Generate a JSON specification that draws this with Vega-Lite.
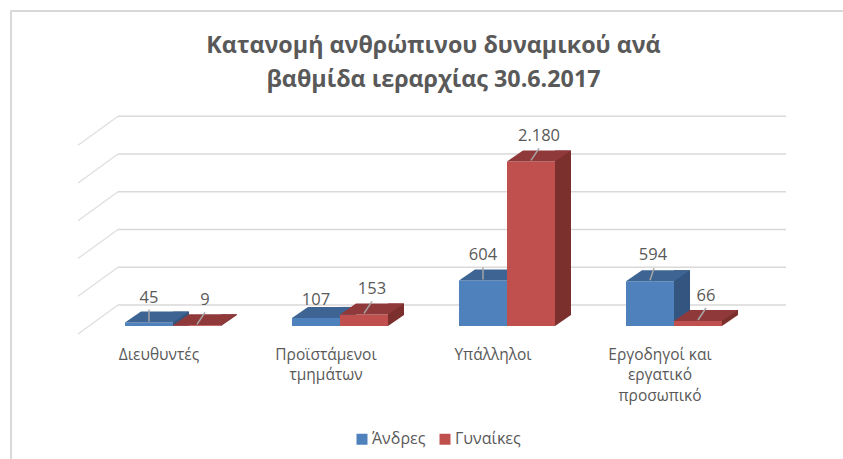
{
"$schema":"https://vega.github.io/schema/vega-lite/v6.json",
"autosize":"none",
"width":732,"height":188.75,
"padding":{"left":78,"top":137.25,"right":33,"bottom":133},
"background":"white",
"config":{"view":{"stroke":null},"font":"Open Sans"},
"title":{"text":["Κατανομή ανθρώπινου δυναμικού ανά","βαθμίδα ιεραρχίας 30.6.2017"],"fontSize":23.3,"fontWeight":"bold","color":"#595959","font":"Open Sans","anchor":"middle","dx":-10.5,"offset":-82,"lineHeight":34},
"datasets":{
"bars":[
{"category":"Διευθυντές","series":"Άνδρες","value":45},
{"category":"Προϊστάμενοι|τμημάτων","series":"Άνδρες","value":107},
{"category":"Υπάλληλοι","series":"Άνδρες","value":604},
{"category":"Εργοδηγοί και|εργατικό|προσωπικό","series":"Άνδρες","value":594},
{"category":"Διευθυντές","series":"Γυναίκες","value":9},
{"category":"Προϊστάμενοι|τμημάτων","series":"Γυναίκες","value":153},
{"category":"Υπάλληλοι","series":"Γυναίκες","value":2180},
{"category":"Εργοδηγοί και|εργατικό|προσωπικό","series":"Γυναίκες","value":66}
],
"grid":[{"tick":0},{"tick":500},{"tick":1000},{"tick":1500},{"tick":2000},{"tick":2500}]
},
"data":{"name":"bars"},
"transform":[{"calculate":"replace(format(datum.value,',d'),',','.')","as":"label"}],
"encoding":{
"x":{"field":"category","type":"nominal","sort":null,
"scale":{"domain":["Διευθυντές","Προϊστάμενοι|τμημάτων","Υπάλληλοι","Εργοδηγοί και|εργατικό|προσωπικό"],"range":[11.5,679.5],"paddingInner":0,"paddingOuter":0},
"axis":{"title":null,"domain":false,"ticks":false,"labelAngle":0,"labelPadding":21,"labelOffset":-14,"labelFontSize":15.5,"labelColor":"#595959","labelFont":"Open Sans","labelLineHeight":20.5,"labelExpr":"split(datum.label,'|')","labelLimit":200}},
"y":{"field":"value","type":"quantitative","stack":null,"scale":{"domain":[0,2500],"nice":false},"axis":null}
},
"layer":[
{"data":{"values":[{"b":1}]},"mark":{"type":"rule","color":"#d9d9d9","strokeWidth":2},"encoding":{"x":{"value":-67.5},"x2":{"value":765},"y":{"value":-126.25},"y2":{"value":-126.25}}},
{"data":{"values":[{"b":1}]},"mark":{"type":"rule","color":"#d9d9d9","strokeWidth":2},"encoding":{"x":{"value":-67},"x2":{"value":-67},"y":{"value":-126.25},"y2":{"value":321.75}}},
{"data":{"name":"grid"},"mark":{"type":"rule","color":"#d9d9d9","strokeWidth":1.4,"yOffset":-21,"y2Offset":-21},
 "encoding":{"x":{"value":40},"x2":{"value":708},"y":{"field":"tick","type":"quantitative"},"y2":{"field":"tick"}}},
{"data":{"name":"grid"},"mark":{"type":"rule","color":"#dedede","strokeWidth":1.2,"yOffset":8,"y2Offset":-21},
 "encoding":{"x":{"value":0},"x2":{"value":40},"y":{"field":"tick","type":"quantitative"},"y2":{"field":"tick"}}},

{"transform":[{"filter":"datum.series==='Άνδρες'"}],"mark":{"type":"bar","width":16,"xOffset":8,"yOffset":-11,"color":"#33557f"},"encoding":{"y2":{"datum":0}}},
{"transform":[{"filter":"datum.series==='Άνδρες'"}],"mark":{"type":"bar","width":48,"xOffset":-24},"encoding":{"y2":{"datum":0},"color":{"field":"series","type":"nominal","scale":{"domain":["Άνδρες","Γυναίκες"],"range":["#4f81bd","#c0504d"]},"legend":{"title":null,"orient":"none","legendX":276,"legendY":294,"direction":"horizontal","symbolType":"square","symbolSize":121,"labelFontSize":16,"labelColor":"#595959","labelFont":"Open Sans","labelOffset":2,"columnPadding":11,"symbolStrokeWidth":0}}}},
{"transform":[{"filter":"datum.series==='Άνδρες'"}],"mark":{"type":"point","filled":true,"opacity":1,"size":4,"color":"#3d6492","shape":"M-48,0L0,0L16,-11L-32,-11Z"}},

{"transform":[{"filter":"datum.series==='Γυναίκες'"}],"mark":{"type":"bar","width":16,"xOffset":56,"yOffset":-11,"color":"#7b302e"},"encoding":{"y2":{"datum":0}}},
{"transform":[{"filter":"datum.series==='Γυναίκες'"}],"mark":{"type":"point","filled":true,"opacity":1,"size":4,"color":"white","shape":"M48,0L48,1L65,1L65,-11.5L64,-11Z"},"encoding":{"y":{"datum":0,"type":"quantitative"}}},
{"transform":[{"filter":"datum.series==='Γυναίκες'"}],"mark":{"type":"bar","width":48,"xOffset":24},"encoding":{"y2":{"datum":0},"color":{"field":"series","type":"nominal"}}},
{"transform":[{"filter":"datum.series==='Γυναίκες'"}],"mark":{"type":"point","filled":true,"opacity":1,"size":4,"color":"#90393a","shape":"M0,0L48,0L64,-11L16,-11Z"}},

{"transform":[{"filter":"datum.series==='Γυναίκες'"}],"mark":{"type":"point","filled":false,"opacity":1,"size":4,"stroke":"#a6a6a6","strokeWidth":1.5,"shape":"M24,-1L32,-13"}},
{"transform":[{"filter":"datum.value===45||datum.value===604"}],"mark":{"type":"point","filled":false,"opacity":1,"size":4,"stroke":"#a6a6a6","strokeWidth":1.5,"shape":"M-24,-1L-24,-13"}},
{"transform":[{"filter":"datum.value===594"}],"mark":{"type":"point","filled":false,"opacity":1,"size":4,"stroke":"#a6a6a6","strokeWidth":1.5,"shape":"M-24,-1L-20,-13"}},

{"transform":[{"filter":"datum.series==='Γυναίκες'"}],"mark":{"type":"text","fontSize":16.5,"color":"#595959","font":"Open Sans","dx":32,"dy":-25},"encoding":{"text":{"field":"label","type":"nominal"}}},
{"transform":[{"filter":"datum.value===45||datum.value===604"}],"mark":{"type":"text","fontSize":16.5,"color":"#595959","font":"Open Sans","dx":-24,"dy":-25},"encoding":{"text":{"field":"label","type":"nominal"}}},
{"transform":[{"filter":"datum.value===107"}],"mark":{"type":"text","fontSize":16.5,"color":"#595959","font":"Open Sans","dx":-24,"dy":-18},"encoding":{"text":{"field":"label","type":"nominal"}}},
{"transform":[{"filter":"datum.value===594"}],"mark":{"type":"text","fontSize":16.5,"color":"#595959","font":"Open Sans","dx":-21,"dy":-26},"encoding":{"text":{"field":"label","type":"nominal"}}}
]
}
